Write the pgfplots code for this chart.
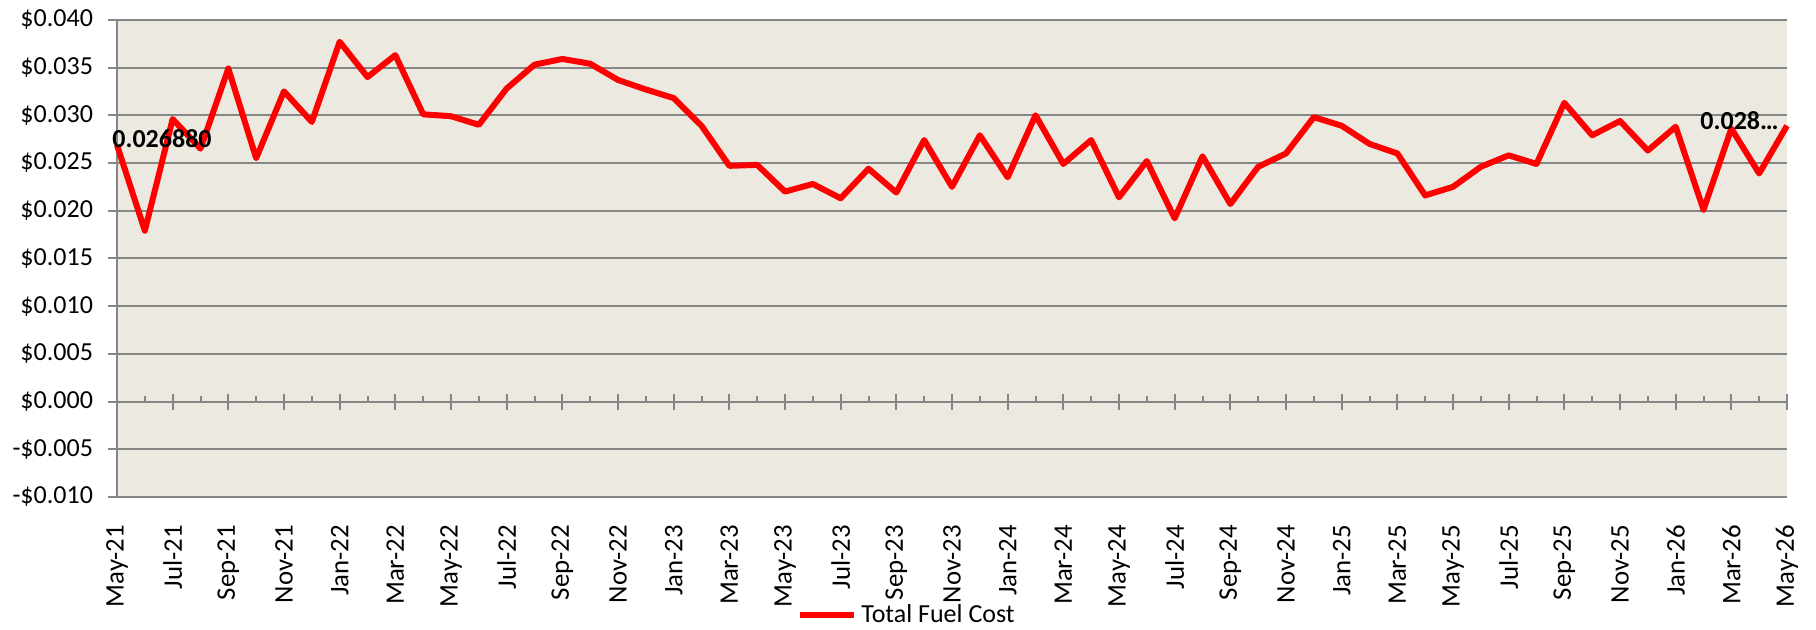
\documentclass[border=0pt]{standalone}
\usepackage{fontspec}
\setmainfont{Carlito}
\usepackage{pgfplots}
\pgfplotsset{compat=1.18}
\usepackage{pgfplotstable}
\definecolor{bgbeige}{RGB}{236,234,224}
\definecolor{gridgray}{RGB}{134,134,134}
\pgfplotstableread{
x y
0 0.02688
1 0.0179
2 0.0296
3 0.0265
4 0.0349
5 0.0255
6 0.0325
7 0.0293
8 0.0377
9 0.0340
10 0.0363
11 0.0301
12 0.0299
13 0.0290
14 0.0328
15 0.0353
16 0.0359
17 0.0354
18 0.0337
19 0.0327
20 0.0318
21 0.0289
22 0.0247
23 0.0248
24 0.0220
25 0.0228
26 0.0213
27 0.0244
28 0.0219
29 0.0274
30 0.0225
31 0.0279
32 0.0235
33 0.0300
34 0.0249
35 0.0274
36 0.0214
37 0.0252
38 0.0192
39 0.0257
40 0.0207
41 0.0246
42 0.0260
43 0.0298
44 0.0289
45 0.0270
46 0.0260
47 0.0216
48 0.0225
49 0.0246
50 0.0258
51 0.0249
52 0.0313
53 0.0279
54 0.0294
55 0.0263
56 0.0288
57 0.0201
58 0.0286
59 0.0239
60 0.0289
}\fuel
\begin{document}
\begin{tikzpicture}
\path[use as bounding box] (0,0) rectangle (908pt,314.5pt);
\begin{axis}[
 scale only axis, width=835pt, height=238.6pt,
 at={(58.5pt,66pt)}, anchor=south west,
 xmin=0, xmax=60, ymin=-0.01, ymax=0.04,
 axis background/.style={fill=bgbeige},
 axis x line*=bottom, axis y line*=left,
 axis line style={-, draw=gridgray, line width=1pt},
 xtick={0,2,...,60},
 xticklabels={May-21,Jul-21,Sep-21,Nov-21,Jan-22,Mar-22,May-22,Jul-22,Sep-22,Nov-22,Jan-23,Mar-23,May-23,Jul-23,Sep-23,Nov-23,Jan-24,Mar-24,May-24,Jul-24,Sep-24,Nov-24,Jan-25,Mar-25,May-25,Jul-25,Sep-25,Nov-25,Jan-26,Mar-26,May-26},
 xtick style={draw=none},
 xticklabel style={font=\fontsize{13.4}{15}\selectfont, rotate=90, anchor=east},
 xticklabel shift=6pt,
 ytick={-0.01,-0.005,0,0.005,0.01,0.015,0.02,0.025,0.03,0.035,0.04},
 yticklabels={-\$0.010,-\$0.005,\$0.000,\$0.005,\$0.010,\$0.015,\$0.020,\$0.025,\$0.030,\$0.035,\$0.040},
 scaled y ticks=false,
 ytick style={gridgray, line width=1pt},
 tick align=outside,
 major tick length=4.5pt,
 yticklabel style={font=\fontsize{13}{15}\selectfont},
 yticklabel shift=4pt,
 ymajorgrids, grid style={gridgray, line width=1pt},
 legend style={at={(0.4737,-0.2473)}, anchor=center, draw=none, fill=none, font=\fontsize{13}{15}\selectfont, inner sep=0pt},
 legend image code/.code={\draw[#1, line width=3pt] (0pt,0pt) -- (27pt,0pt);},
 clip=false,
]
\addplot[red, line width=3pt, line join=round] table[x=x,y=y]{\fuel};
\addlegendentry{Total Fuel Cost}
\node[anchor=west, inner sep=0pt, xshift=-2.5pt, yshift=3.3pt, font=\bfseries\fontsize{13}{15}\selectfont] at (axis cs:0,0.02688) {0.026880};
\node[anchor=east, inner sep=0pt, xshift=-4pt, yshift=2.5pt, font=\bfseries\fontsize{13}{15}\selectfont] at (axis cs:60,0.0289) {0.028…};
\end{axis}
\begin{axis}[
 scale only axis, width=835pt, height=238.6pt,
 at={(58.5pt,66pt)}, anchor=south west,
 xmin=0, xmax=60, ymin=-0.01, ymax=0.04,
 axis x line=middle, axis y line=none,
 axis line style={-, draw=gridgray, line width=1pt},
 xtick={0,2,...,60}, minor x tick num=1,
 xticklabels={},
 tick align=center,
 major tick length=8pt, minor tick length=3pt,
 major tick style={gridgray, line width=1pt},
 minor tick style={gridgray, line width=1pt, yshift=1.5pt},
]
\end{axis}
\end{tikzpicture}
\end{document}
